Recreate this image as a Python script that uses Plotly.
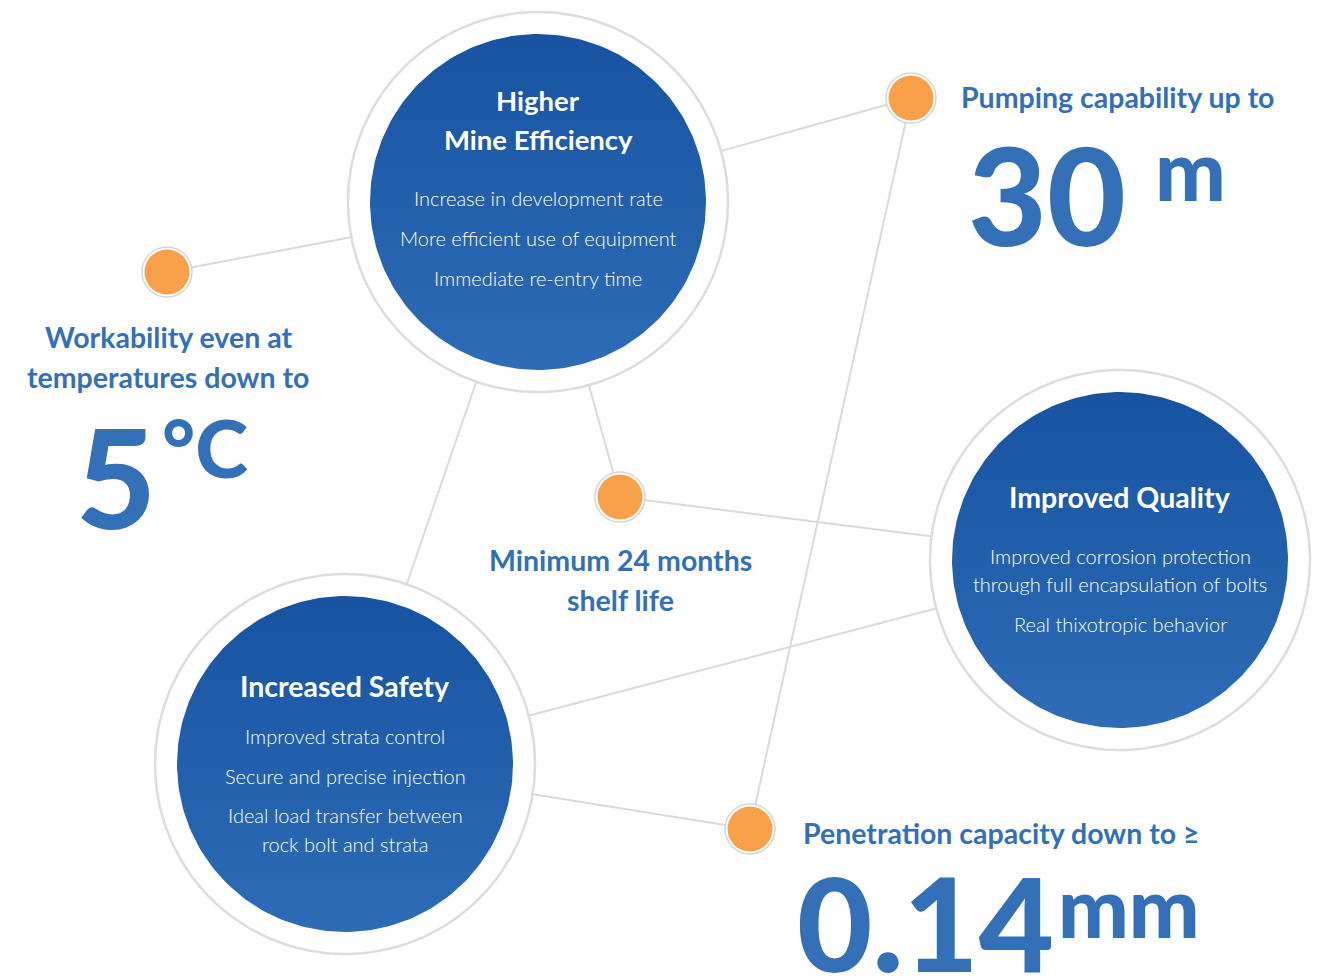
import numpy as np
import plotly.graph_objects as go

W, H = 1326, 978

# ---- data -------------------------------------------------------------
hub_x = [538, 1120, 345]
hub_y = [202, 560, 764]
hub_titles = ["Higher", "Improved Quality", "Increased Safety"]
hub_subtitles = ["Mine Efficiency", "", ""]
hub_items = [
    ["Increase in development rate", "More efficient use of equipment", "Immediate re-entry time"],
    ["Improved corrosion protection", "through full encapsulation of bolts", "Real thixotropic behavior"],
    ["Improved strata control", "Secure and precise injection", "Ideal load transfer between", "rock bolt and strata"],
]

dot_x = [167, 911, 620, 750]
dot_y = [272, 98, 497, 829]

# connections: (kind, index) pairs
links = [
    (("d", 0), ("h", 0)),
    (("d", 1), ("h", 0)),
    (("d", 1), ("d", 3)),
    (("d", 2), ("h", 0)),
    (("d", 2), ("h", 1)),
    (("h", 0), ("h", 2)),
    (("h", 2), ("h", 1)),
    (("h", 2), ("d", 3)),
]

stat_labels = [["Workability even at", "temperatures down to"], ["Pumping capability up to"],
               ["Minimum 24 months", "shelf life"], ["Penetration capacity down to ≥"]]
stat_values = ["5", "30", "", "0.14"]
stat_units = ["°C", "m", "", "mm"]

# ---- style ------------------------------------------------------------
BLUE_TXT = "#3370b7"
ORANGE = "#f8a04a"
LINE = "#d9dbdb"
R_OUT, R_IN = 190, 168
FONT = "Lato"
FONT_LIGHT = "Lato Light, Lato"
FONT_HEAVY = "Lato Black, Lato Heavy, Lato"

def pos(node):
    k, i = node
    return (hub_x[i], hub_y[i]) if k == "h" else (dot_x[i], dot_y[i])

fig = go.Figure()

# connecting lines
for a, b in links:
    (x0, y0), (x1, y1) = pos(a), pos(b)
    fig.add_trace(go.Scatter(x=[x0, x1], y=[y0, y1], mode="lines",
                             line=dict(color=LINE, width=2), hoverinfo="skip", showlegend=False))

theta = np.linspace(0, 2 * np.pi, 241)
# outer rings
for cx, cy in zip(hub_x, hub_y):
    fig.add_trace(go.Scatter(x=cx + R_OUT * np.cos(theta), y=cy + R_OUT * np.sin(theta),
                             mode="lines", fill="toself", fillcolor="white",
                             line=dict(color="#dcdddd", width=2.5), hoverinfo="skip", showlegend=False))
# blue discs
for cx, cy in zip(hub_x, hub_y):
    fig.add_trace(go.Scatter(x=cx + R_IN * np.cos(theta), y=cy + R_IN * np.sin(theta),
                             mode="lines", fill="toself",
                             fillgradient=dict(type="vertical", start=cy - R_IN, stop=cy + R_IN,
                                               colorscale=[[0, "#1753a1"], [1, "#2e6cb7"]]),
                             line=dict(width=0, color="rgba(0,0,0,0)"), hoverinfo="skip", showlegend=False))

# orange dots
fig.add_trace(go.Scatter(x=dot_x, y=dot_y, mode="markers",
                         marker=dict(size=50, color="white", line=dict(color="#d6d6d6", width=1.5)),
                         hoverinfo="skip", showlegend=False))
fig.add_trace(go.Scatter(x=dot_x, y=dot_y, mode="markers",
                         marker=dict(size=45, color=ORANGE, line=dict(width=0)),
                         hoverinfo="skip", showlegend=False))

ann = []
def txt(x, y, s, size, color, weight=700, xa="center", ya="middle", family=FONT):
    ann.append(dict(x=x, y=y, xref="x", yref="y", text=s, showarrow=False,
                    xanchor=xa, yanchor=ya, align="center",
                    font=dict(family=family, size=size, color=color, weight=weight)))

# hub texts
txt(hub_x[0], 100, hub_titles[0], 27.5, "white")
txt(hub_x[0], 139, hub_subtitles[0], 27.5, "white")
txt(hub_x[1], 497, hub_titles[1], 28.5, "white")
txt(hub_x[2], 686, hub_titles[2], 28.5, "white")

item_y = [[198, 238, 278], [556, 584, 624], [736, 776, 815, 844]]
for i in range(3):
    for s, yy in zip(hub_items[i], item_y[i]):
        txt(hub_x[i], yy, s, 20, "white", weight=300, family=FONT_LIGHT)

# stat labels
for s, yy in zip(stat_labels[0], [337, 377]):
    txt(168, yy, s, 28.5, BLUE_TXT)
txt(959, 97, stat_labels[1][0], 28.5, BLUE_TXT, xa="left")
for s, yy in zip(stat_labels[2], [560, 600]):
    txt(620, yy, s, 28.5, BLUE_TXT)
txt(801, 833, stat_labels[3][0], 28.5, BLUE_TXT, xa="left")

# big numbers
txt(158, 475, stat_values[0], 138, BLUE_TXT, weight=900, xa="right", family=FONT_HEAVY)
txt(160, 447, stat_units[0], 80, BLUE_TXT, weight=900, xa="left", family=FONT_HEAVY)
txt(1128, 193, stat_values[1], 136, BLUE_TXT, weight=900, xa="right", family=FONT_HEAVY)
txt(1153, 168, stat_units[1], 84, BLUE_TXT, weight=900, xa="left", family=FONT_HEAVY)
txt(1056, 922, stat_values[3], 130, BLUE_TXT, weight=900, xa="right", family=FONT_HEAVY)
txt(1056, 905, stat_units[3], 84, BLUE_TXT, weight=900, xa="left", family=FONT_HEAVY)

fig.update_layout(
    width=W, height=H, autosize=False,
    margin=dict(l=0, r=0, t=0, b=0),
    paper_bgcolor="white", plot_bgcolor="white",
    xaxis=dict(range=[0, W], visible=False, fixedrange=True),
    yaxis=dict(range=[H, 0], visible=False, fixedrange=True),
    annotations=ann, showlegend=False,
)

fig.write_html("out.html", config={"displayModeBar": False},
               post_script="document.body.style.margin='0';document.body.style.overflow='hidden';")
